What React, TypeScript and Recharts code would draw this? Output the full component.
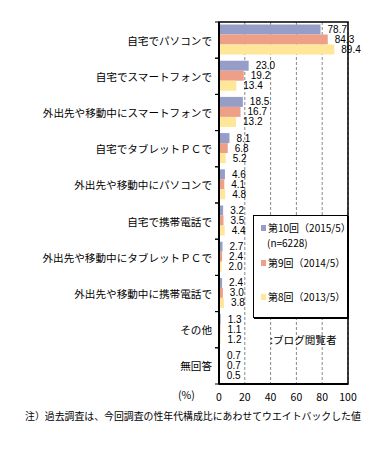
import React from "react";
import {
  BarChart,
  Bar,
  XAxis,
  YAxis,
  CartesianGrid,
  LabelList,
  Legend,
  ReferenceArea,
} from "recharts";

const categories = [
  "自宅でパソコンで",
  "自宅でスマートフォンで",
  "外出先や移動中にスマートフォンで",
  "自宅でタブレットＰＣで",
  "外出先や移動中にパソコンで",
  "自宅で携帯電話で",
  "外出先や移動中にタブレットＰＣで",
  "外出先や移動中に携帯電話で",
  "その他",
  "無回答",
];
const round10 = [78.7, 23.0, 18.5, 8.1, 4.6, 3.2, 2.7, 2.4, 1.3, 0.7];
const round9 = [84.3, 19.2, 16.7, 6.8, 4.1, 3.5, 2.4, 3.0, 1.1, 0.7];
const round8 = [89.4, 13.4, 13.2, 5.2, 4.8, 4.4, 2.0, 3.8, 1.2, 0.5];
const xTicks = [0, 20, 40, 60, 80, 100];
const seriesNames = ["第10回（2015/5）", "第9回（2014/5）", "第8回（2013/5）"];
const colors = ["#969EC8", "#ED9F88", "#FFE699"];

const data = categories.map((name, i) => ({
  name,
  r10: round10[i],
  r9: round9[i],
  r8: round8[i],
}));

const FONT = '"Noto Sans CJK JP", "Noto Sans", sans-serif';
const NUMFONT = '"Liberation Sans", "DejaVu Sans", sans-serif';

const CategoryTick = (props: any) => {
  const { y, payload } = props;
  const half = 18.1;
  return (
    <g>
      <text
        x={212}
        y={y}
        textAnchor="end"
        dominantBaseline="central"
        fontSize={10.6}
        fontFamily={FONT}
        fill="#000"
      >
        {payload.value}
      </text>
      <line x1={215} x2={219} y1={y - half} y2={y - half} stroke="#000" />
      <line x1={215} x2={219} y1={y + half} y2={y + half} stroke="#000" />
    </g>
  );
};

const EmptyTick = () => <g />;

const fmt = (v: any) => Number(v).toFixed(1);

const LegendBox = () => (
  <div
    style={{
      width: 95,
      height: 103,
      boxSizing: "border-box",
      border: "1px solid #000",
      boxShadow: "1px 1px 0 #000",
      background: "#fff",
      fontFamily: FONT,
      fontSize: 10,
      color: "#000",
      position: "relative",
    }}
  >
    {[
      { c: colors[0], t: seriesNames[0], top: 5 },
      { c: colors[1], t: seriesNames[1], top: 40 },
      { c: colors[2], t: seriesNames[2], top: 74 },
    ].map((it, i) => (
      <div key={i} style={{ position: "absolute", left: 7, top: it.top, height: 12, lineHeight: "12px", whiteSpace: "nowrap" }}>
        <span style={{ display: "inline-block", width: 5, height: 6, background: it.c, marginRight: 2, verticalAlign: "middle" }} />
        <span style={{ verticalAlign: "middle" }}>{it.t}</span>
      </div>
    ))}
    <div style={{ position: "absolute", left: 13, top: 21, height: 12, lineHeight: "12px" }}>(n=6228)</div>
  </div>
);

const labelStyle = { fontSize: 10, fill: "#000", fontFamily: NUMFONT };

export default function App() {
  return (
    <div style={{ position: "absolute", left: 0, top: 0, width: 390, height: 456, background: "#fff" }}>
      <BarChart
        width={390}
        height={456}
        data={data}
        layout="vertical"
        margin={{ top: 22, right: 42, bottom: 42, left: 0 }}
        barCategoryGap={2.5}
        barGap={0}
      >
        <CartesianGrid horizontal={false} stroke="#888" strokeDasharray="3 2" />
        <XAxis
          type="number"
          domain={[0, 100]}
          ticks={xTicks}
          axisLine={{ stroke: "#000", strokeWidth: 2 }}
          tickLine={false}
          tick={{ fontSize: 10.5, fill: "#000", fontFamily: FONT }}
          tickMargin={4}
          height={30}
        />
        <XAxis
          xAxisId="top"
          orientation="top"
          type="number"
          domain={[0, 100]}
          ticks={[20, 40, 60, 80]}
          mirror
          height={0}
          axisLine={{ stroke: "#000" }}
          tickLine={{ stroke: "#000" }}
          tickSize={3}
          tick={<EmptyTick />}
        />
        <YAxis
          type="category"
          dataKey="name"
          width={219}
          axisLine={{ stroke: "#000", strokeWidth: 2 }}
          tickLine={false}
          tick={<CategoryTick />}
          interval={0}
        />
        <ReferenceArea x1={0} x2={100} fill="none" stroke="#000" strokeWidth={1.5} ifOverflow="visible" />
        <Legend
          layout="horizontal"
          verticalAlign="middle"
          align="center"
          content={() => <LegendBox />}
          wrapperStyle={{ position: "absolute", left: 253, top: 215, width: 95, height: 103 }}
        />
        <Bar dataKey="r10" name={seriesNames[0]} fill={colors[0]} isAnimationActive={false}>
          <LabelList dataKey="r10" position="right" offset={7} formatter={fmt} style={labelStyle} />
        </Bar>
        <Bar dataKey="r9" name={seriesNames[1]} fill={colors[1]} isAnimationActive={false}>
          <LabelList dataKey="r9" position="right" offset={7} formatter={fmt} style={labelStyle} />
        </Bar>
        <Bar dataKey="r8" name={seriesNames[2]} fill={colors[2]} isAnimationActive={false}>
          <LabelList dataKey="r8" position="right" offset={7} formatter={fmt} style={labelStyle} />
        </Bar>
      </BarChart>
      <svg
        width={390}
        height={456}
        style={{ position: "absolute", left: 0, top: 0, pointerEvents: "none" }}
      >
        <text x={270} y={339} dominantBaseline="central" fontSize={10.6} fontFamily={FONT} fill="#000">
          :ブログ閲覧者
        </text>
        <text x={178} y={394} dominantBaseline="central" fontSize={10.6} fontFamily={FONT} fill="#000">
          (%)
        </text>
        <text x={25} y={416} dominantBaseline="central" fontSize={9.9} fontFamily={FONT} fill="#000">
          注）過去調査は、今回調査の性年代構成比にあわせてウエイトバックした値
        </text>
      </svg>
    </div>
  );
}
